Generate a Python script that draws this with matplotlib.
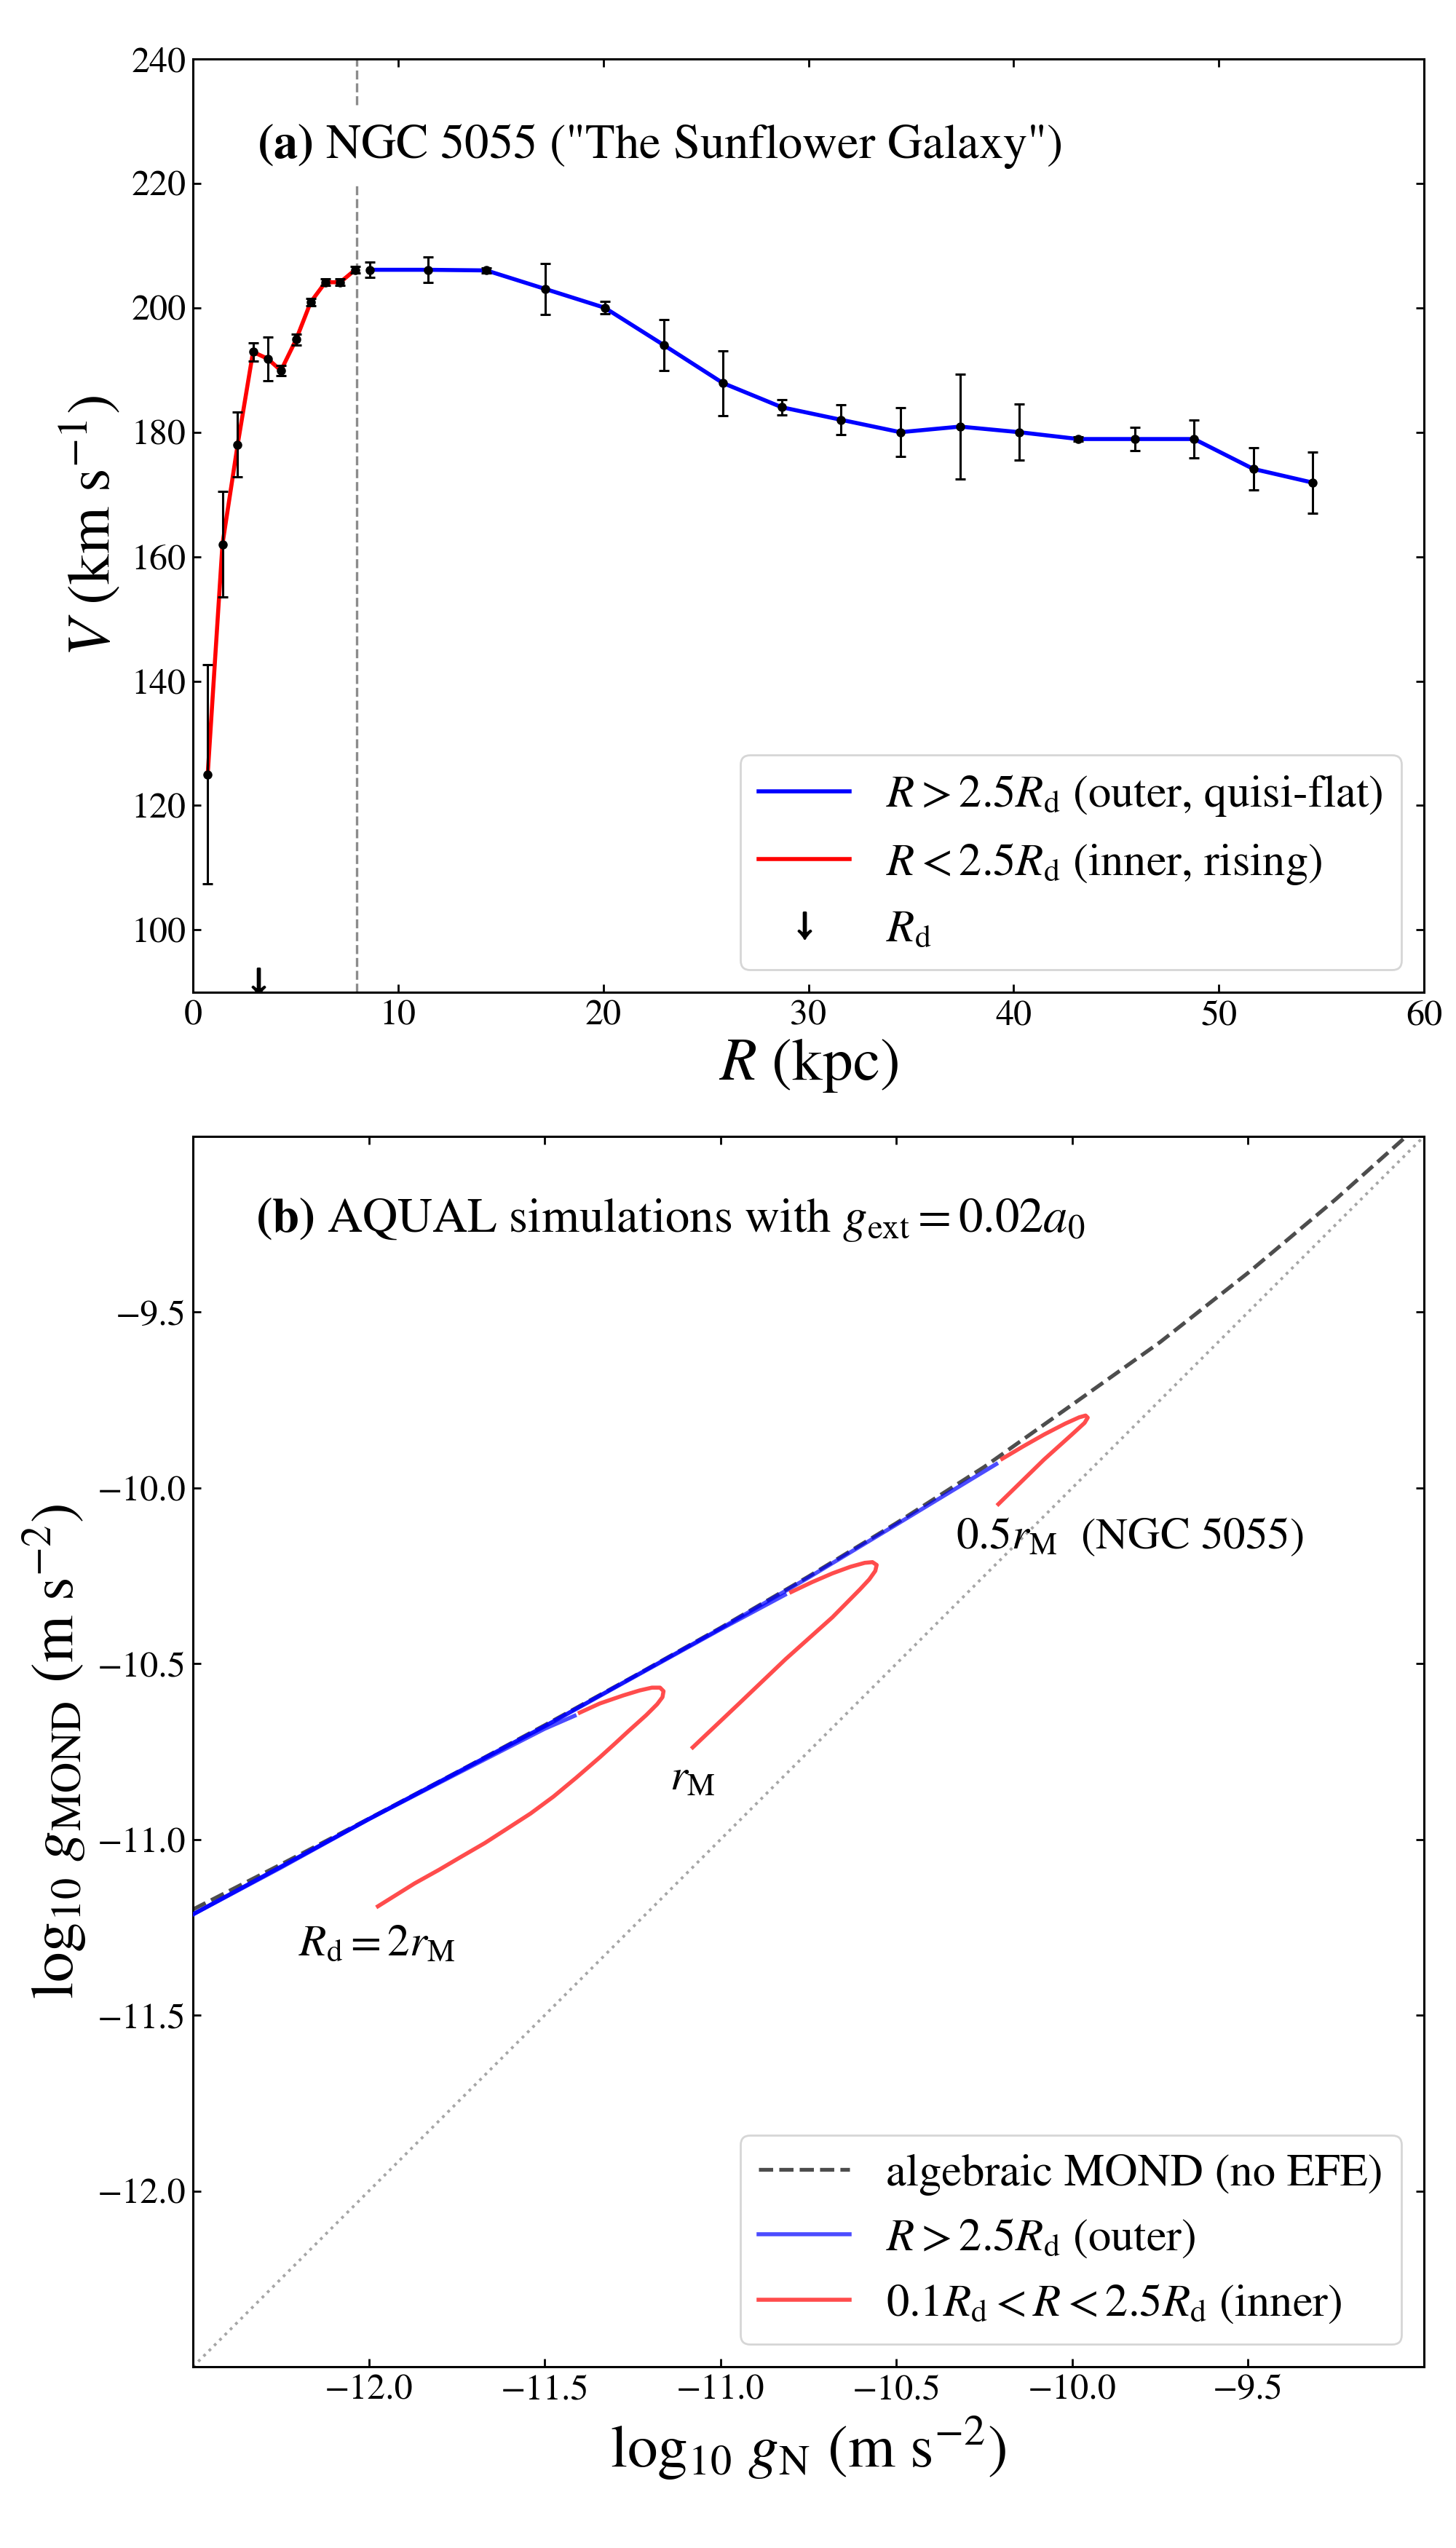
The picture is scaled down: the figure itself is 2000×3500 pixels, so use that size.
import matplotlib
matplotlib.use("Agg")
import matplotlib.pyplot as plt

plt.rcParams['font.family'] = 'serif'
plt.rcParams['font.serif'] = ['STIXGeneral', 'DejaVu Serif']
plt.rcParams['mathtext.fontset'] = 'stix'

# ---------------- Panel (a) data: NGC 5055 rotation curve ----------------
R_inner = [0.72, 1.44, 2.18, 2.93, 3.65, 4.29, 5.03, 5.74, 6.46, 7.18, 7.91]
V_inner = [125.0, 162.0, 178.0, 192.9, 191.8, 189.9, 194.9, 200.9, 204.1, 204.1, 206.1]
E_inner = [17.6, 8.5, 5.2, 1.5, 3.5, 0.8, 0.9, 0.6, 0.5, 0.5, 0.5]

R_outer = [8.63, 11.46, 14.30, 17.19, 20.07, 22.95, 25.83, 28.71, 31.58, 34.48,
           37.39, 40.28, 43.16, 45.92, 48.80, 51.68, 54.57]
V_outer = [206.1, 206.1, 206.0, 203.0, 200.0, 194.0, 187.9, 184.0, 182.0, 180.0,
           180.9, 180.0, 178.9, 178.9, 178.9, 174.1, 171.9]
E_outer = [1.2, 2.0, 0.4, 4.1, 1.0, 4.1, 5.2, 1.2, 2.4, 3.9,
           8.4, 4.5, 0.4, 1.9, 3.0, 3.4, 4.9]

R_d = 3.2
R_split = 8.0
V_arrow = 91.8

# ---------------- Panel (b) data: AQUAL simulations ----------------
mond_x = [-12.5, -12.25, -12.0, -11.75, -11.5, -11.25, -11.0, -10.75, -10.5,
          -10.25, -10.0, -9.75, -9.5, -9.25, -9.0]
mond_y = [-11.199, -11.071, -10.941, -10.809, -10.675, -10.538, -10.398, -10.252,
          -10.100, -9.940, -9.763, -9.585, -9.388, -9.178, -8.955]

one_x = [-12.5, -9.0]
one_y = [-12.5, -9.0]

blue1_x = [-12.5, -12.25, -12.0, -11.75, -11.5, -11.415]
blue1_y = [-11.213, -11.080, -10.942, -10.813, -10.685, -10.648]
blue2_x = [-12.5, -12.0, -11.5, -11.25, -11.0, -10.817]
blue2_y = [-11.213, -10.942, -10.678, -10.540, -10.402, -10.304]
blue3_x = [-12.5, -12.0, -11.5, -11.0, -10.75, -10.5, -10.216]
blue3_y = [-11.213, -10.942, -10.678, -10.400, -10.255, -10.104, -9.932]

red1_x = [-11.400, -11.343, -11.276, -11.230, -11.195, -11.172, -11.162, -11.165,
          -11.180, -11.211, -11.260, -11.300, -11.343, -11.410, -11.475, -11.540,
          -11.608, -11.670, -11.739, -11.800, -11.870, -11.974]
red1_y = [-10.639, -10.613, -10.590, -10.576, -10.568, -10.568, -10.578, -10.595,
          -10.615, -10.646, -10.690, -10.727, -10.766, -10.824, -10.878, -10.926,
          -10.970, -11.010, -11.050, -11.086, -11.125, -11.190]
red2_x = [-10.799, -10.740, -10.682, -10.630, -10.590, -10.568, -10.556, -10.560,
          -10.577, -10.604, -10.682, -10.815, -10.947, -11.079]
red2_y = [-10.296, -10.268, -10.243, -10.224, -10.213, -10.211, -10.219, -10.236,
          -10.260, -10.289, -10.368, -10.487, -10.613, -10.738]
red3_x = [-10.199, -10.140, -10.080, -10.020, -9.980, -9.962, -9.956, -9.965,
          -10.001, -10.080, -10.210]
red3_y = [-9.917, -9.882, -9.848, -9.817, -9.799, -9.794, -9.800, -9.815,
          -9.848, -9.919, -10.046]

fig = plt.figure(figsize=(10, 17.5), dpi=200)
ax1 = fig.add_axes([0.1325, 0.6106, 0.8455, 0.3663])
ax2 = fig.add_axes([0.1325, 0.0711, 0.8455, 0.4829])

# ---------------- Panel (a) ----------------
ax1.axvline(R_split, color='0.55', ls='--', lw=1.2, zorder=1)
ax1.plot(R_outer, V_outer, color='blue', lw=2.0, zorder=2,
         label=r'$R > 2.5R_{\rm d}$ (outer, quisi-flat)')
ax1.plot(R_inner, V_inner, color='red', lw=2.0, zorder=2,
         label=r'$R < 2.5R_{\rm d}$ (inner, rising)')
ax1.errorbar(R_inner + R_outer, V_inner + V_outer, yerr=E_inner + E_outer,
             fmt='o', color='k', ms=3.5, elinewidth=1.1, capsize=2.5,
             capthick=1.1, zorder=3)
ax1.plot([R_d], [V_arrow], marker=r'$\downarrow$', color='k', ms=13, ls='none',
         label=r'$R_{\rm d}$')
ax1.set_xlim(0, 60)
ax1.set_ylim(90, 240)
ax1.set_yticks(range(100, 241, 20))
ax1.set_xlabel(r'$R$ (kpc)', fontsize=30, labelpad=2)
ax1.set_ylabel(r'$V$ (km s$^{-1}$)', fontsize=30)
ax1.text(0.052, 0.906, r'$\mathbf{(a)}$ NGC 5055 ("The Sunflower Galaxy")',
         transform=ax1.transAxes, fontsize=24, va='center', ha='left',
         bbox=dict(boxstyle='square,pad=0.3', fc='white', ec='none'), zorder=5)
ax1.legend(loc='lower right', fontsize=22.5)

# ---------------- Panel (b) ----------------
ax2.plot(one_x, one_y, color='0.65', ls=':', lw=1.4, zorder=1)
ax2.plot(mond_x, mond_y, color='0.3', ls='--', lw=1.9, zorder=2,
         label='algebraic MOND (no EFE)')
for i, (bx, by) in enumerate([(blue1_x, blue1_y), (blue2_x, blue2_y), (blue3_x, blue3_y)]):
    ax2.plot(bx, by, color='blue', alpha=0.7, lw=2.0, zorder=3,
             label=r'$R > 2.5R_{\rm d}$ (outer)' if i == 0 else None)
for i, (rx, ry) in enumerate([(red1_x, red1_y), (red2_x, red2_y), (red3_x, red3_y)]):
    ax2.plot(rx, ry, color='red', alpha=0.7, lw=2.0, zorder=3,
             label=r'$0.1R_{\rm d} < R < 2.5R_{\rm d}$ (inner)' if i == 0 else None)

ax2.text(-12.2, -11.30, r'$R_{\rm d} = 2r_{\rm M}$', fontsize=22, va='center', ha='left')
ax2.text(-11.08, -10.83, r'$r_{\rm M}$', fontsize=22, va='center', ha='center')
ax2.text(-10.33, -10.14, r'$0.5r_{\rm M}$  (NGC 5055)', fontsize=22, va='center', ha='left')
ax2.text(0.051, 0.932, r'$\mathbf{(b)}$ AQUAL simulations with $g_{\rm ext} = 0.02a_0$',
         transform=ax2.transAxes, fontsize=24, va='center', ha='left')

ax2.set_xlim(-12.5, -9.0)
ax2.set_ylim(-12.5, -9.0)
ax2.set_xticks([-12.0, -11.5, -11.0, -10.5, -10.0, -9.5])
ax2.set_yticks([-12.0, -11.5, -11.0, -10.5, -10.0, -9.5])
ax2.set_xlabel(r'$\log_{10}\, g_{\rm N}$ (m s$^{-2}$)', fontsize=30)
ax2.set_ylabel(r'$\log_{10}\, g_{\rm MOND}$ (m s$^{-2}$)', fontsize=30)
ax2.legend(loc='lower right', fontsize=22.5)

for ax in (ax1, ax2):
    ax.tick_params(direction='in', top=True, right=True, labelsize=18,
                   length=4, width=1.0)
    for s in ax.spines.values():
        s.set_linewidth(1.1)

fig.savefig('out.png', dpi=200)
